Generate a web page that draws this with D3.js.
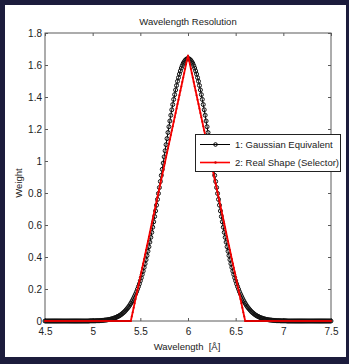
<!DOCTYPE html>
<html>
<head>
<meta charset="utf-8">
<script src="https://cdn.jsdelivr.net/npm/d3@7"></script>
<style>
  html, body { margin: 0; padding: 0; background: #1c1c3c; }
  svg { display: block; }
  text { font-family: "Liberation Sans", Arial, sans-serif; fill: #222; }
</style>
</head>
<body>
<svg id="chart" width="349" height="364"></svg>
<script>
// Wavelength grid (Å), 0.01 Å steps
const wavelength = [
  4.50,4.51,4.52,4.53,4.54,4.55,4.56,4.57,4.58,4.59,
  4.60,4.61,4.62,4.63,4.64,4.65,4.66,4.67,4.68,4.69,
  4.70,4.71,4.72,4.73,4.74,4.75,4.76,4.77,4.78,4.79,
  4.80,4.81,4.82,4.83,4.84,4.85,4.86,4.87,4.88,4.89,
  4.90,4.91,4.92,4.93,4.94,4.95,4.96,4.97,4.98,4.99,
  5.00,5.01,5.02,5.03,5.04,5.05,5.06,5.07,5.08,5.09,
  5.10,5.11,5.12,5.13,5.14,5.15,5.16,5.17,5.18,5.19,
  5.20,5.21,5.22,5.23,5.24,5.25,5.26,5.27,5.28,5.29,
  5.30,5.31,5.32,5.33,5.34,5.35,5.36,5.37,5.38,5.39,
  5.40,5.41,5.42,5.43,5.44,5.45,5.46,5.47,5.48,5.49,
  5.50,5.51,5.52,5.53,5.54,5.55,5.56,5.57,5.58,5.59,
  5.60,5.61,5.62,5.63,5.64,5.65,5.66,5.67,5.68,5.69,
  5.70,5.71,5.72,5.73,5.74,5.75,5.76,5.77,5.78,5.79,
  5.80,5.81,5.82,5.83,5.84,5.85,5.86,5.87,5.88,5.89,
  5.90,5.91,5.92,5.93,5.94,5.95,5.96,5.97,5.98,5.99,
  6.00,6.01,6.02,6.03,6.04,6.05,6.06,6.07,6.08,6.09,
  6.10,6.11,6.12,6.13,6.14,6.15,6.16,6.17,6.18,6.19,
  6.20,6.21,6.22,6.23,6.24,6.25,6.26,6.27,6.28,6.29,
  6.30,6.31,6.32,6.33,6.34,6.35,6.36,6.37,6.38,6.39,
  6.40,6.41,6.42,6.43,6.44,6.45,6.46,6.47,6.48,6.49,
  6.50,6.51,6.52,6.53,6.54,6.55,6.56,6.57,6.58,6.59,
  6.60,6.61,6.62,6.63,6.64,6.65,6.66,6.67,6.68,6.69,
  6.70,6.71,6.72,6.73,6.74,6.75,6.76,6.77,6.78,6.79,
  6.80,6.81,6.82,6.83,6.84,6.85,6.86,6.87,6.88,6.89,
  6.90,6.91,6.92,6.93,6.94,6.95,6.96,6.97,6.98,6.99,
  7.00,7.01,7.02,7.03,7.04,7.05,7.06,7.07,7.08,7.09,
  7.10,7.11,7.12,7.13,7.14,7.15,7.16,7.17,7.18,7.19,
  7.20,7.21,7.22,7.23,7.24,7.25,7.26,7.27,7.28,7.29,
  7.30,7.31,7.32,7.33,7.34,7.35,7.36,7.37,7.38,7.39,
  7.40,7.41,7.42,7.43,7.44,7.45,7.46,7.47,7.48,7.49,
  7.50
];

// Series 1: Gaussian equivalent weight
const gaussianWeight = [
  0,0,0,0,0,0,0,0,0,0,
  0,0,0,0,0,0,0,0,0,0,
  0,0,0,0,0,0,0,0,0,0,
  0,0,0,0,0,0,0,0,0,0,
  0,0,0,0,0,0,0,0.001,0.001,0.001,
  0.001,0.001,0.001,0.001,0.002,0.002,0.002,0.002,0.003,0.003,
  0.004,0.004,0.005,0.006,0.006,0.007,0.008,0.009,0.010,0.012,
  0.013,0.015,0.017,0.019,0.021,0.024,0.027,0.030,0.033,0.037,
  0.041,0.046,0.051,0.056,0.062,0.069,0.076,0.083,0.091,0.100,
  0.110,0.120,0.131,0.143,0.156,0.169,0.183,0.199,0.215,0.232,
  0.251,0.270,0.291,0.312,0.335,0.358,0.383,0.409,0.436,0.464,
  0.493,0.523,0.554,0.586,0.620,0.653,0.688,0.724,0.760,0.797,
  0.834,0.872,0.910,0.948,0.987,1.026,1.064,1.102,1.140,1.178,
  1.214,1.250,1.286,1.320,1.353,1.385,1.415,1.444,1.472,1.498,
  1.521,1.543,1.563,1.581,1.596,1.610,1.620,1.629,1.635,1.639,
  1.640,1.639,1.635,1.629,1.620,1.610,1.596,1.581,1.563,1.543,
  1.521,1.498,1.472,1.444,1.415,1.385,1.353,1.320,1.286,1.250,
  1.214,1.178,1.140,1.102,1.064,1.026,0.987,0.948,0.910,0.872,
  0.834,0.797,0.760,0.724,0.688,0.653,0.620,0.586,0.554,0.523,
  0.493,0.464,0.436,0.409,0.383,0.358,0.335,0.312,0.291,0.270,
  0.251,0.232,0.215,0.199,0.183,0.169,0.156,0.143,0.131,0.120,
  0.110,0.100,0.091,0.083,0.076,0.069,0.062,0.056,0.051,0.046,
  0.041,0.037,0.033,0.030,0.027,0.024,0.021,0.019,0.017,0.015,
  0.013,0.012,0.010,0.009,0.008,0.007,0.006,0.006,0.005,0.004,
  0.004,0.003,0.003,0.002,0.002,0.002,0.002,0.001,0.001,0.001,
  0.001,0.001,0.001,0.001,0,0,0,0,0,0,
  0,0,0,0,0,0,0,0,0,0,
  0,0,0,0,0,0,0,0,0,0,
  0,0,0,0,0,0,0,0,0,0,
  0,0,0,0,0,0,0,0,0,0,
  0
];

// Series 2: real selector shape weight
const selectorWeight = [
  0,0,0,0,0,0,0,0,0,0,
  0,0,0,0,0,0,0,0,0,0,
  0,0,0,0,0,0,0,0,0,0,
  0,0,0,0,0,0,0,0,0,0,
  0,0,0,0,0,0,0,0,0,0,
  0,0,0,0,0,0,0,0,0,0,
  0,0,0,0,0,0,0,0,0,0,
  0,0,0,0,0,0,0,0,0,0,
  0,0,0,0,0,0,0,0,0,0,
  0,0.028,0.055,0.083,0.111,0.138,0.166,0.194,0.221,0.249,
  0.277,0.304,0.332,0.360,0.387,0.415,0.443,0.470,0.498,0.526,
  0.553,0.581,0.609,0.636,0.664,0.692,0.719,0.747,0.775,0.802,
  0.830,0.858,0.885,0.913,0.941,0.968,0.996,1.024,1.051,1.079,
  1.107,1.134,1.162,1.190,1.217,1.245,1.273,1.300,1.328,1.356,
  1.383,1.411,1.439,1.466,1.494,1.522,1.549,1.577,1.605,1.632,
  1.660,1.632,1.605,1.577,1.549,1.522,1.494,1.466,1.439,1.411,
  1.383,1.356,1.328,1.300,1.273,1.245,1.217,1.190,1.162,1.134,
  1.107,1.079,1.051,1.024,0.996,0.968,0.941,0.913,0.885,0.858,
  0.830,0.802,0.775,0.747,0.719,0.692,0.664,0.636,0.609,0.581,
  0.553,0.526,0.498,0.470,0.443,0.415,0.387,0.360,0.332,0.304,
  0.277,0.249,0.221,0.194,0.166,0.138,0.111,0.083,0.055,0.028,
  0,0,0,0,0,0,0,0,0,0,
  0,0,0,0,0,0,0,0,0,0,
  0,0,0,0,0,0,0,0,0,0,
  0,0,0,0,0,0,0,0,0,0,
  0,0,0,0,0,0,0,0,0,0,
  0,0,0,0,0,0,0,0,0,0,
  0,0,0,0,0,0,0,0,0,0,
  0,0,0,0,0,0,0,0,0,0,
  0,0,0,0,0,0,0,0,0,0,
  0
];

const xTicks = [4.5, 5, 5.5, 6, 6.5, 7, 7.5];
const xTickLabels = ["4.5", "5", "5.5", "6", "6.5", "7", "7.5"];
const yTicks = [0, 0.2, 0.4, 0.6, 0.8, 1, 1.2, 1.4, 1.6, 1.8];
const yTickLabels = ["0", "0.2", "0.4", "0.6", "0.8", "1", "1.2", "1.4", "1.6", "1.8"];
const seriesNames = ["1: Gaussian Equivalent", "2: Real Shape (Selector)"];

const svg = d3.select("#chart");

// white figure panel inside the dark frame
svg.append("rect").attr("x", 5).attr("y", 5).attr("width", 341).attr("height", 352)
  .attr("fill", "#ffffff");

const plot = { left: 45, right: 331, top: 33, bottom: 321 };
const x = d3.scaleLinear().domain([4.5, 7.5]).range([plot.left, plot.right]);
const y = d3.scaleLinear().domain([0, 1.8]).range([plot.bottom, plot.top]);

const axisColor = "#5a5a5a";
const fmtX = (d) => xTickLabels[xTicks.indexOf(d)];
const fmtY = (d) => yTickLabels[yTicks.indexOf(d)];

function styleAxis(g) {
  g.select(".domain").remove();
  g.selectAll(".tick line").attr("stroke", axisColor);
  g.selectAll(".tick text").attr("fill", "#1a1a1a").style("font-size", "10px")
    .style("font-family", "'Liberation Sans', Arial, sans-serif");
}

svg.append("g").attr("transform", `translate(0,${plot.bottom})`)
  .call(d3.axisBottom(x).tickValues(xTicks).tickFormat(fmtX).tickSize(-3).tickPadding(7))
  .call(styleAxis);
svg.append("g").attr("transform", `translate(0,${plot.top})`)
  .call(d3.axisTop(x).tickValues(xTicks).tickFormat("").tickSize(-3))
  .call(styleAxis);
svg.append("g").attr("transform", `translate(${plot.left},0)`)
  .call(d3.axisLeft(y).tickValues(yTicks).tickFormat(fmtY).tickSize(-3).tickPadding(3))
  .call(styleAxis);
svg.append("g").attr("transform", `translate(${plot.right},0)`)
  .call(d3.axisRight(y).tickValues(yTicks).tickFormat("").tickSize(-3))
  .call(styleAxis);

// axes box
svg.append("rect")
  .attr("x", plot.left).attr("y", plot.top)
  .attr("width", plot.right - plot.left).attr("height", plot.bottom - plot.top)
  .attr("fill", "none").attr("stroke", axisColor).attr("stroke-width", 1);

const gaussPts = wavelength.map((w, i) => [w, gaussianWeight[i]]);
const selPts = wavelength.map((w, i) => [w, selectorWeight[i]]);
const line = d3.line().x((d) => x(d[0])).y((d) => y(d[1]));

// Gaussian equivalent: black line with open circles
svg.append("path").datum(gaussPts).attr("d", line)
  .attr("fill", "none").attr("stroke", "#000").attr("stroke-width", 1);
svg.append("g").selectAll("circle").data(gaussPts).join("circle")
  .attr("cx", (d) => x(d[0])).attr("cy", (d) => y(d[1])).attr("r", 2)
  .attr("fill", "none").attr("stroke", "#111").attr("stroke-width", 1);

// Real selector shape: red line with point markers
svg.append("path").datum(selPts).attr("d", line)
  .attr("fill", "none").attr("stroke", "#ff0000").attr("stroke-width", 1.8);
svg.append("g").selectAll("circle").data(selPts).join("circle")
  .attr("cx", (d) => x(d[0])).attr("cy", (d) => y(d[1])).attr("r", 1)
  .attr("fill", "#d80000");

// title and axis labels
svg.append("text").attr("x", 188).attr("y", 25).attr("text-anchor", "middle")
  .style("font-size", "9.5px").text("Wavelength Resolution");
svg.append("text").attr("x", 187).attr("y", 350).attr("text-anchor", "middle")
  .style("font-size", "9.5px").style("white-space", "pre").text("Wavelength  [Å]");
svg.append("text").attr("transform", "translate(22,183) rotate(-90)")
  .attr("text-anchor", "middle").style("font-size", "9.5px").text("Weight");

// legend
const legend = svg.append("g");
legend.append("rect").attr("x", 195.5).attr("y", 134.5).attr("width", 145).attr("height", 37)
  .attr("fill", "#fff").attr("stroke", "#222").attr("stroke-width", 1);
const rows = [
  { y: 144.5, color: "#000", marker: "circle" },
  { y: 162.5, color: "#ff0000", marker: "dot" }
];
rows.forEach((r, i) => {
  legend.append("line").attr("x1", 200).attr("x2", 230).attr("y1", r.y).attr("y2", r.y)
    .attr("stroke", r.color).attr("stroke-width", i === 0 ? 1 : 1.6);
  if (r.marker === "circle") {
    legend.append("circle").attr("cx", 215.5).attr("cy", r.y).attr("r", 1.8)
      .attr("fill", "none").attr("stroke", "#000").attr("stroke-width", 1);
  } else {
    legend.append("circle").attr("cx", 215.5).attr("cy", r.y).attr("r", 1.2)
      .attr("fill", "#d00000");
  }
  legend.append("text").attr("x", 235).attr("y", r.y + 3.6)
    .style("font-size", "9.5px").text(seriesNames[i]);
});
</script>
</body>
</html>
